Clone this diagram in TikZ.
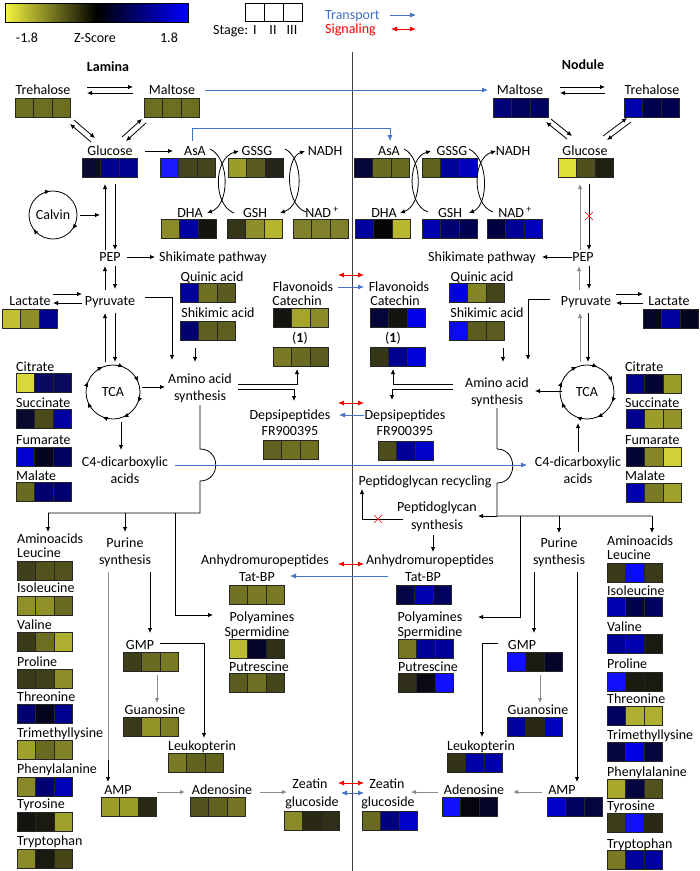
\documentclass[tikz,border=0pt]{standalone}
\usepackage{fontspec}
\setmainfont{Carlito}
\usetikzlibrary{arrows.meta,decorations.markings}
\definecolor{trblue}{HTML}{4472C4}
\definecolor{sgred}{HTML}{FF0000}
\definecolor{ylw}{HTML}{F5F540}
\newcommand\hm[5]{%
  \definecolor{hmA}{HTML}{#3}\definecolor{hmB}{HTML}{#4}\definecolor{hmC}{HTML}{#5}%
  \filldraw[hmcell,fill=hmA] (#1,#2) rectangle ++(18.5,19);
  \filldraw[hmcell,fill=hmB] ({#1+18.5},#2) rectangle ++(18.5,19);
  \filldraw[hmcell,fill=hmC] ({#1+37},#2) rectangle ++(18.5,19);
}
\newcommand\redx[2]{\draw[sgred,line width=0.6pt] ({#1-4},{#2-4}) -- ({#1+4},{#2+4}) ({#1-4},{#2+4}) -- ({#1+4},{#2-4});}
\begin{document}
\begin{tikzpicture}[x=1pt,y=-1pt,
  lbl/.style={inner sep=0pt, text height=9pt, text depth=0pt, font=\fontsize{14}{16}\selectfont},
  lbll/.style={lbl, anchor=west},
  hd/.style={lbl, font=\fontsize{14}{16}\selectfont\bfseries},
  con/.style={line width=0.8pt, draw=black},
  arr/.style={con, -{Latex[length=5pt,width=4.5pt]}},
  garr/.style={arr, draw=black!45},
  gcon/.style={con, draw=black!45},
  tarr/.style={line width=0.8pt, draw=trblue, -{Latex[length=6pt,width=5pt]}},
  tdarr/.style={line width=0.8pt, draw=trblue, {Latex[length=6pt,width=5pt]}-{Latex[length=6pt,width=5pt]}},
  sarr/.style={line width=0.8pt, draw=sgred, {Latex[length=6pt,width=5pt]}-{Latex[length=6pt,width=5pt]}},
  hmcell/.style={draw=black!85, line width=0.7pt},
  tcacirc/.style={line width=0.8pt, postaction={decorate}, decoration={markings,
     mark=between positions 0.0625 and 1 step 0.125 with {\arrow{Latex[length=5pt,width=4.5pt]}}}},
  calvcirc/.style={line width=0.8pt, postaction={decorate}, decoration={markings,
     mark=at position 0.1 with {\arrow{Latex[length=5pt,width=4.5pt]}},
     mark=at position 0.4 with {\arrow{Latex[length=5pt,width=4.5pt]}},
     mark=at position 0.73 with {\arrow{Latex[length=5pt,width=4.5pt]}}}},
]
\useasboundingbox (0,0) rectangle (700,871);
\fill[white] (0,0) rectangle (700,871);

% ---------- legend ----------
\shade[left color=ylw, right color=blue, middle color=black] (5,3) rectangle (188,22);
\draw[black, line width=0.7pt] (5,3) rectangle (188,22);
\node[lbl] (lgmin) at (27,38) {-1.8};
\node[lbl] (lgz) at (95,38) {Z-Score};
\node[lbl] (lgmax) at (169,38) {1.8};
\draw[black, line width=0.8pt] (245,3) rectangle (302,21) (264,3) -- (264,21) (283,3) -- (283,21);
\node[lbll] (stg) at (213,30) {Stage:};
\node[lbl] (s1) at (255,30) {I};
\node[lbl] (s2) at (273,30) {II};
\node[lbl] (s3) at (292,30) {III};
\node[lbll, text=trblue] (ltr) at (325,15) {Transport};
\node[lbll, text=sgred] (lsg) at (325,29) {Signaling};
\coordinate (ltrA) at (390,15); \coordinate (ltrB) at (416,15);
\draw[tarr] (ltrA) -- (ltrB);
\coordinate (lsgA) at (391,29); \coordinate (lsgB) at (416,29);
\draw[sarr] (lsgA) -- (lsgB);

% divider
\draw[line width=0.8pt, black!75] (352,52) -- (352,871);

\node[hd] (lamina) at (108,67) {Lamina};
\node[hd] (nodule) at (583,65) {Nodule};

% =================== LAMINA ===================
\node[lbl] (treL) at (43,90) {Trehalose};   \hm{15}{98}{6E6E20}{6E6E20}{6E6E20}
\node[lbl] (malL) at (172,90) {Maltose};    \hm{144}{98}{6E6E20}{6E6E20}{6E6E20}
\node[lbl] (glcL) at (110,151) {Glucose};   \hm{82}{158}{0A0A35}{000090}{000090}
\node[lbl] (asaL) at (195,151) {AsA};       \hm{160}{158}{1A1AFF}{45451A}{45451A}
\node[lbl] (gssgL) at (257,151) {GSSG};     \hm{228}{158}{9C9C2A}{5A5A20}{25251A}
\node[lbl] (nadhL) at (325,151) {NADH};
\node[lbl] (dhaL) at (190,213) {DHA};       \hm{161}{219}{8A8A28}{0000A0}{15150F}
\node[lbl] (gshL) at (255,213) {GSH};       \hm{227}{219}{353518}{8E8E2A}{B5B530}
\node[lbl] (nadL) at (322,213) {NAD\,\textsuperscript{+}}; \hm{293}{219}{80802A}{80802A}{80802A}
\node[lbl] (calvin) at (53,215) {Calvin};
\draw[calvcirc] (53,215) circle[radius=24];
\node[lbl] (pepL) at (110,257) {PEP};
\node[lbl] (shpL) at (213,257) {Shikimate pathway};
\node[lbl] (pyrL) at (110,301) {Pyruvate};
\node[lbl] (lacL) at (30,301) {Lactate};    \hm{2}{309}{C0C030}{8D8D2A}{000090}
\node[lbl] (quiL) at (212,277) {Quinic acid};   \hm{180}{283}{00009A}{707022}{5B5B20}
\node[lbl] (shaL) at (218,313) {Shikimic acid}; \hm{180}{321}{000070}{5F5F20}{5F5F20}
\node[lbl] (flaL) at (303,287) {Flavonoids};
\node[lbl] (catL) at (297,301) {Catechin};  \hm{273}{308}{15150F}{A5A52E}{8A8A28}
\node[lbl] (oneL) at (300,338) {(\textbf{1})}; \hm{273}{347}{7A7A25}{6A6A22}{5C5C20}
\node[lbl] (tcaL) at (113,392) {TCA};
\draw[tcacirc] (113,392) circle[radius=27];
\node[lbl] (aaL) at (200,379) {Amino acid};
\node[lbl] (aaL2) at (200,396) {synthesis};
\node[lbl] (depL) at (290,415) {Depsipeptides};
\node[lbl] (frL) at (290,431) {FR900395};   \hm{263}{440}{606020}{707022}{707022}
\node[lbll] (citL) at (16,367) {Citrate};   \hm{16}{373}{D8D838}{0A0A60}{0A0A60}
\node[lbll] (sucL) at (16,403) {Succinate}; \hm{16}{409}{0A0A30}{4A4A1A}{0000A0}
\node[lbll] (fumL) at (16,440) {Fumarate};  \hm{16}{447}{0000D0}{050520}{000060}
\node[lbll] (malaL) at (16,476) {Malate};   \hm{16}{482}{6A6A22}{000070}{000070}
\node[lbl] (c4L) at (125,462) {C4-dicarboxylic};
\node[lbl] (c4L2) at (125,479) {acids};
\node[lbll] (amiL) at (17,539) {Aminoacids};
\node[lbll] (leuL) at (17,553) {Leucine};        \hm{17}{561}{40401A}{52521D}{52521D}
\node[lbll] (ileL) at (17,588) {Isoleucine};     \hm{17}{596}{909028}{909028}{6A6A22}
\node[lbll] (valL) at (17,625) {Valine};         \hm{17}{632}{3A3A18}{6E6E22}{B0B030}
\node[lbll] (proL) at (17,662) {Proline};        \hm{17}{669}{3A3A18}{40401A}{8E8E2A}
\node[lbll] (thrL) at (17,697) {Threonine};      \hm{17}{704}{000070}{050520}{000090}
\node[lbll] (tmlL) at (17,733) {Trimethyllysine};\hm{17}{740}{A0A02C}{6A6A22}{808028}
\node[lbll] (pheL) at (17,769) {Phenylalanine};  \hm{17}{777}{888828}{000070}{0000B8}
\node[lbll] (tyrL) at (17,804) {Tyrosine};       \hm{17}{812}{151510}{1A1A10}{A0A02C}
\node[lbll] (trpL) at (17,841) {Tryptophan};     \hm{17}{849}{8A8A28}{1A1A10}{454518}
\node[lbl] (purL) at (125,543) {Purine};
\node[lbl] (purL2) at (125,560) {synthesis};
\node[lbl] (anhL) at (265,560) {Anhydromuropeptides};
\node[lbl] (tatL) at (257,577) {Tat-BP};         \hm{229}{585}{727224}{7A7A25}{7A7A25}
\node[lbl] (polL) at (262,617) {Polyamines};
\node[lbl] (speL) at (257,632) {Spermidine};     \hm{229}{639}{BCBC30}{05052A}{303018}
\node[lbl] (putL) at (259,667) {Putrescine};     \hm{229}{673}{5C5C20}{6E6E22}{45451A}
\node[lbl] (gmpL) at (140,645) {GMP};            \hm{123}{652}{3E3E18}{6A6A22}{7A7A25}
\node[lbl] (guaL) at (155,710) {Guanosine};      \hm{123}{717}{3A3A18}{939328}{7E7E25}
\node[lbl] (leuk) at (202,746) {Leukopterin};    \hm{168}{753}{7A7A25}{62621F}{62621F}
\node[lbl] (ampL) at (118,790) {AMP};            \hm{101}{797}{9C9C2A}{9C9C2A}{2A2A14}
\node[lbl] (adeL) at (222,790) {Adenosine};      \hm{190}{797}{52521D}{62621F}{747424}
\node[lbl] (zeaL) at (310,784) {Zeatin};
\node[lbl] (zeaL2) at (312,802) {glucoside};     \hm{284}{811}{8A8A28}{2A2A14}{30301A}

% lamina connectors
\draw[arr] (87,87) -- (133,87);
\draw[arr] (133,93) -- (87,93);
\draw[arr] (74,120) -- (95,138);
\draw[arr] (91,142) -- (70,124);
\draw[arr] (122,137) -- (142,119);
\draw[arr] (146,123) -- (126,141);
\draw[arr] (145,151) -- (173,151);
\draw[arr] (210,149) .. controls (230,158) and (230,205) .. (207,213);
\draw[arr] (234,213) .. controls (213,205) and (213,158) .. (239,151);
\draw[arr] (285,149) .. controls (304,158) and (304,205) .. (280,213);
\draw[arr] (306,212) .. controls (285,205) and (285,158) .. (305,151);
\draw[arr] (80,215) -- (100,215);
\draw[arr] (105,250) -- (105,184);
\draw[arr] (115,184) -- (115,250);
\draw[arr] (127,257) -- (155,257);
\draw[arr] (105,290) -- (105,266);
\draw[arr] (115,266) -- (115,289);
\draw[arr] (53,294) -- (82,294);
\draw[arr] (82,303) -- (53,303);
\draw[arr] (105,362) -- (105,313);
\draw[arr] (115,313) -- (115,362);
\draw[arr] (142,387) -- (165,387);
\draw[arr] (145,297) -- (172,297) -- (172,360);
\draw[arr] (195,348) -- (195,362);
\draw[arr] (238,384) -- (297,384) -- (297,369);
\draw[arr] (238,389) -- (294,389) -- (294,401);
\draw[arr] (121,422) -- (121,450);
\draw[con] (200,405) -- (200,449) .. controls (221,449) and (221,481) .. (200,481) -- (200,513) -- (48,513);
\draw[arr] (48,513) -- (48,532);
\draw[arr] (125,513) -- (125,532);
\draw[arr] (175,513) -- (175,615) -- (213,615);
\draw[gcon] (108,572) -- (108,760);
\draw[arr] (108,760) -- (108,782);
\draw[arr] (150,572) -- (150,633);
\draw[garr] (157,675) -- (157,703);
\draw[arr] (160,643) -- (204,643) -- (204,738);
\draw[garr] (157,792) -- (185,792);
\draw[garr] (260,792) -- (287,792);

% =================== NODULE ===================
\node[lbl] (malN) at (520,90) {Maltose};    \hm{493}{98}{00007A}{000060}{000060}
\node[lbl] (treN) at (652,90) {Trehalose};  \hm{624}{98}{0000B0}{000050}{000050}
\node[lbl] (glcN) at (585,151) {Glucose};   \hm{558}{158}{E0E038}{50501C}{20200F}
\node[lbl] (asaN) at (389,151) {AsA};       \hm{354}{158}{05053A}{6A6A22}{6A6A22}
\node[lbl] (gssgN) at (452,151) {GSSG};     \hm{422}{158}{62621F}{00009A}{0000B8}
\node[lbl] (nadhN) at (513,151) {NADH};
\node[lbl] (dhaN) at (384,213) {DHA};       \hm{355}{219}{0000A0}{050505}{B8B830}
\node[lbl] (gshN) at (450,213) {GSH};       \hm{422}{219}{0000B0}{000070}{000050}
\node[lbl] (nadN) at (515,213) {NAD\,\textsuperscript{+}}; \hm{487}{219}{000040}{000098}{0000B8}
\node[lbl] (pepN) at (583,257) {PEP};
\node[lbl] (shpN) at (482,257) {Shikimate pathway};
\node[lbl] (pyrN) at (586,301) {Pyruvate};
\node[lbl] (lacN) at (669,301) {Lactate};   \hm{643}{309}{05052A}{0000A0}{05051F}
\node[lbl] (quiN) at (482,277) {Quinic acid};   \hm{449}{283}{0000E0}{838328}{45451A}
\node[lbl] (shaN) at (487,313) {Shikimic acid}; \hm{449}{321}{0A0AF5}{5C5C20}{5C5C20}
\node[lbl] (flaN) at (399,287) {Flavonoids};
\node[lbl] (catN) at (395,301) {Catechin};  \hm{370}{308}{05053A}{151510}{0000E8}
\node[lbl] (oneN) at (393,338) {(\textbf{1})}; \hm{370}{347}{353518}{000090}{0000D8}
\node[lbl] (tcaN) at (587,392) {TCA};
\draw[tcacirc] (587,392) circle[radius=27];
\node[lbl] (aaN) at (497,383) {Amino acid};
\node[lbl] (aaN2) at (497,400) {synthesis};
\node[lbl] (depN) at (405,415) {Depsipeptides};
\node[lbl] (frN) at (405,431) {FR900395};   \hm{378}{441}{4C4C1C}{000098}{0000C8}
\node[lbll] (citN) at (625,367) {Citrate};   \hm{626}{374}{000090}{050535}{9C9C2A}
\node[lbll] (sucN) at (625,403) {Succinate}; \hm{626}{409}{000090}{9C9C2A}{939328}
\node[lbll] (fumN) at (625,440) {Fumarate};  \hm{626}{447}{050535}{868628}{D0D038}
\node[lbll] (malaN) at (625,476) {Malate};   \hm{626}{483}{0000B0}{7A7A25}{A0A02C}
\node[lbl] (c4N) at (578,462) {C4-dicarboxylic};
\node[lbl] (c4N2) at (578,479) {acids};
\node[lbl] (pgr) at (425,481) {Peptidoglycan recycling};
\node[lbl] (pgs) at (437,507) {Peptidoglycan};
\node[lbl] (pgs2) at (437,525) {synthesis};
\node[lbll] (amiN) at (607,541) {Aminoacids};
\node[lbll] (leuN) at (607,555) {Leucine};        \hm{607}{563}{3A3A18}{0A0AFF}{3A3A18}
\node[lbll] (ileN) at (607,591) {Isoleucine};     \hm{607}{597}{0000B0}{000050}{000060}
\node[lbll] (valN) at (607,627) {Valine};         \hm{607}{634}{000098}{0000B0}{1A1A10}
\node[lbll] (proN) at (607,664) {Proline};        \hm{607}{672}{1010FF}{1A1A10}{1A1A10}
\node[lbll] (thrN) at (607,699) {Threonine};      \hm{607}{706}{000060}{B0B030}{B0B030}
\node[lbll] (tmlN) at (607,735) {Trimethyllysine};\hm{607}{742}{050540}{0000E0}{050540}
\node[lbll] (pheN) at (607,772) {Phenylalanine};  \hm{607}{779}{A8A82C}{050540}{52521D}
\node[lbll] (tyrN) at (607,806) {Tyrosine};       \hm{607}{813}{3E3E18}{1010FF}{2A2A14}
\node[lbll] (trpN) at (607,844) {Tryptophan};     \hm{607}{850}{7A7A25}{0000A0}{0000A0}
\node[lbl] (purN) at (559,543) {Purine};
\node[lbl] (purN2) at (559,560) {synthesis};
\node[lbl] (anhN) at (430,560) {Anhydromuropeptides};
\node[lbl] (tatN) at (423,577) {Tat-BP};         \hm{396}{585}{050545}{0000B0}{000060}
\node[lbl] (polN) at (430,617) {Polyamines};
\node[lbl] (speN) at (430,632) {Spermidine};     \hm{398}{639}{767624}{000098}{000098}
\node[lbl] (putN) at (428,667) {Putrescine};     \hm{398}{673}{30301A}{0A0A15}{1010FF}
\node[lbl] (gmpN) at (522,645) {GMP};            \hm{507}{652}{1010FF}{1A1A10}{05052A}
\node[lbl] (guaN) at (538,710) {Guanosine};      \hm{507}{717}{0000A0}{2A2A14}{0000C0}
\node[lbl] (leukN) at (481,746) {Leukopterin};   \hm{447}{753}{333318}{0000A8}{0000A8}
\node[lbl] (ampN) at (562,790) {AMP};            \hm{547}{797}{0000C8}{000060}{050540}
\node[lbl] (adeN) at (474,790) {Adenosine};      \hm{442}{797}{1010FF}{050510}{05052A}
\node[lbl] (zeaN) at (387,784) {Zeatin};
\node[lbl] (zeaN2) at (388,802) {glucoside};     \hm{362}{811}{6A6A22}{000080}{0000C8}

% nodule connectors
\draw[arr] (560,87) -- (605,87);
\draw[arr] (605,93) -- (560,93);
\draw[arr] (567,139) -- (546,122);
\draw[arr] (551,119) -- (572,136);
\draw[arr] (603,136) -- (627,118);
\draw[arr] (631,122) -- (607,140);
\draw[arr] (404,149) .. controls (423,158) and (423,205) .. (400,213);
\draw[arr] (428,212) .. controls (407,205) and (407,158) .. (431,151);
\draw[arr] (469,149) .. controls (489,158) and (489,205) .. (469,213);
\draw[arr] (493,212) .. controls (472,205) and (472,158) .. (496,151);
\draw[garr] (580,250) -- (580,184);
\draw[arr] (589,184) -- (589,250);
\redx{589}{216}
\draw[arr] (572,257) -- (542,257);
\draw[garr] (579,290) -- (579,266);
\draw[arr] (589,266) -- (589,289);
\draw[arr] (616,294) -- (643,294);
\draw[arr] (643,303) -- (616,303);
\draw[garr] (580,362) -- (580,313);
\draw[arr] (588,313) -- (588,362);
\draw[arr] (562,391) -- (535,391);
\draw[arr] (550,299) -- (528,299) -- (528,360);
\draw[arr] (503,348) -- (503,362);
\draw[arr] (453,384) -- (393,384) -- (393,369);
\draw[arr] (453,389) -- (392,389) -- (392,400);
\draw[arr] (578,452) -- (578,423);
\draw[con] (497,408) -- (497,449) .. controls (518,449) and (518,483) .. (497,483) -- (497,516) -- (652,516);
\draw[arr] (497,516) -- (478,516);
\draw[arr] (652,516) -- (652,533);
\draw[arr] (559,516) -- (559,533);
\draw[arr] (520,516) -- (520,617) -- (478,617);
\draw[arr] (403,519) -- (362,519) -- (362,489);
\redx{378}{519}
\draw[arr] (433,535) -- (433,552);
\draw[arr] (534,572) -- (534,633);
\draw[arr] (577,572) -- (577,782);
\draw[garr] (540,675) -- (540,703);
\draw[arr] (498,643) -- (482,643) -- (482,737);
\draw[garr] (542,792) -- (513,792);
\draw[garr] (438,792) -- (411,792);

% =================== cross-organ ===================
\draw[tarr] (205,90) -- (488,90);
\draw[tarr] (192,141) -- (192,128) -- (390,128) -- (390,141);
\draw[tarr] (175,465) -- (527,465);
\draw[sarr] (338,275) -- (364,275);
\draw[tarr] (338,287) -- (364,287);
\draw[sarr] (338,403) -- (364,403);
\draw[tarr] (364,415) -- (339,415);
\draw[sarr] (338,564) -- (364,564);
\draw[tarr] (388,576) -- (290,576);
\draw[sarr] (338,783) -- (364,783);
\draw[tdarr] (341,793) -- (364,793);
\end{tikzpicture}
\end{document}
